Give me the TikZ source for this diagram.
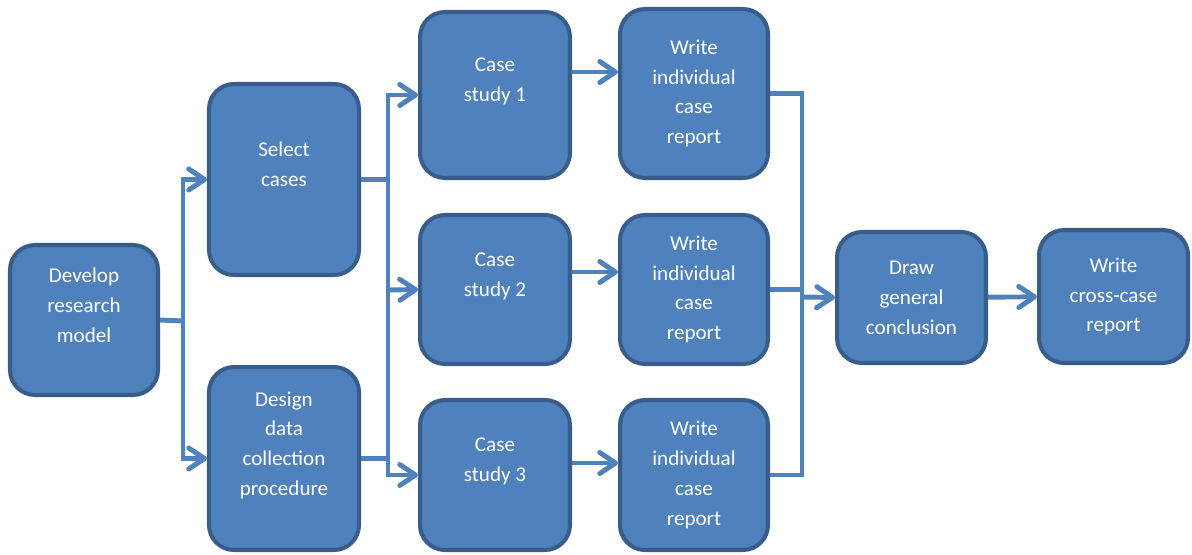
\documentclass[tikz,border=0pt]{standalone}
\usepackage{fontspec}
\setmainfont{Carlito}
\usetikzlibrary{positioning, arrows.meta}
\definecolor{boxfill}{HTML}{4F81BD}
\definecolor{boxline}{HTML}{385D8A}
\tikzset{
  stage/.style={draw=boxline, fill=boxfill, line width=2.3pt, rounded corners=0.5cm,
    text=white, align=center, minimum width=3cm, inner sep=0pt,
    font=\fontsize{12}{17}\selectfont},
  link/.style={draw=boxfill, line width=2.8pt},
}
\begin{document}
\begin{tikzpicture}[x=0.02cm, y=-0.02cm, >={Straight Barb[length=9pt,width=12pt,round]}]
  \useasboundingbox (0,0) rectangle (1192,554);
  % boxes
  \node[stage, minimum width=2.96cm, minimum height=3cm]    (develop) at (84,320)     {Develop\\research\\model\\~};
  \node[stage, minimum height=3.82cm] (select)  at (284,179.5)  {Select\\cases\\~};
  \node[stage, minimum height=3.66cm] (design)  at (284,458.5)  {Design\\data\\collection\\procedure\\~};
  \node[stage, minimum height=3.32cm] (case1)   at (495,95)     {Case\\study 1\\~};
  \node[stage, minimum height=2.98cm] (case2)   at (495,289.5)  {Case\\study 2\\~};
  \node[stage, minimum height=3cm]    (case3)   at (495,475)    {Case\\study 3\\~};
  \node[stage, minimum width=2.96cm, minimum height=3.38cm] (write1) at (694,93.5)  {Write\\individual\\case\\report};
  \node[stage, minimum width=2.96cm, minimum height=2.98cm] (write2) at (694,289.5) {Write\\individual\\case\\report};
  \node[stage, minimum width=2.96cm, minimum height=3cm]    (write3) at (694,475)   {Write\\individual\\case\\report};
  \node[stage, minimum width=2.98cm, minimum height=2.62cm] (draw)   at (911.5,297.5)  {Draw\\general\\conclusion};
  \node[stage, minimum width=2.98cm, minimum height=2.66cm] (cross)  at (1113.5,296.5) {Write\\cross-case\\report};
  % bus points
  \coordinate (busA) at (183,321);
  \coordinate (busB) at (388,290);
  \coordinate (busC) at (802,297);
  % connectors
  \draw[link] (develop.east) -- (busA);
  \draw[link,->] (busA) |- (select.west);
  \draw[link,->] (busA) |- (design.west);
  \draw[link] (select.east) -- (select.east -| busB);
  \draw[link] (design.east) -- (design.east -| busB);
  \draw[link,->] (busB) |- (case1.west);
  \draw[link,->] (busB) -- (case2.west);
  \draw[link,->] (busB) |- (case3.west);
  \draw[link,->] (case1.east |- 0,72)  -- (write1.west |- 0,72);
  \draw[link,->] (case2.east |- 0,272) -- (write2.west |- 0,272);
  \draw[link,->] (case3.east |- 0,463) -- (write3.west |- 0,463);
  \draw[link] (write1.east) -| (busC);
  \draw[link] (write3.east) -| (busC);
  \draw[link] (write2.east) -- (write2.east -| busC);
  \draw[link,->] (busC) -- (draw.west);
  \draw[link,->] (draw) -- (cross);
\end{tikzpicture}
\end{document}
